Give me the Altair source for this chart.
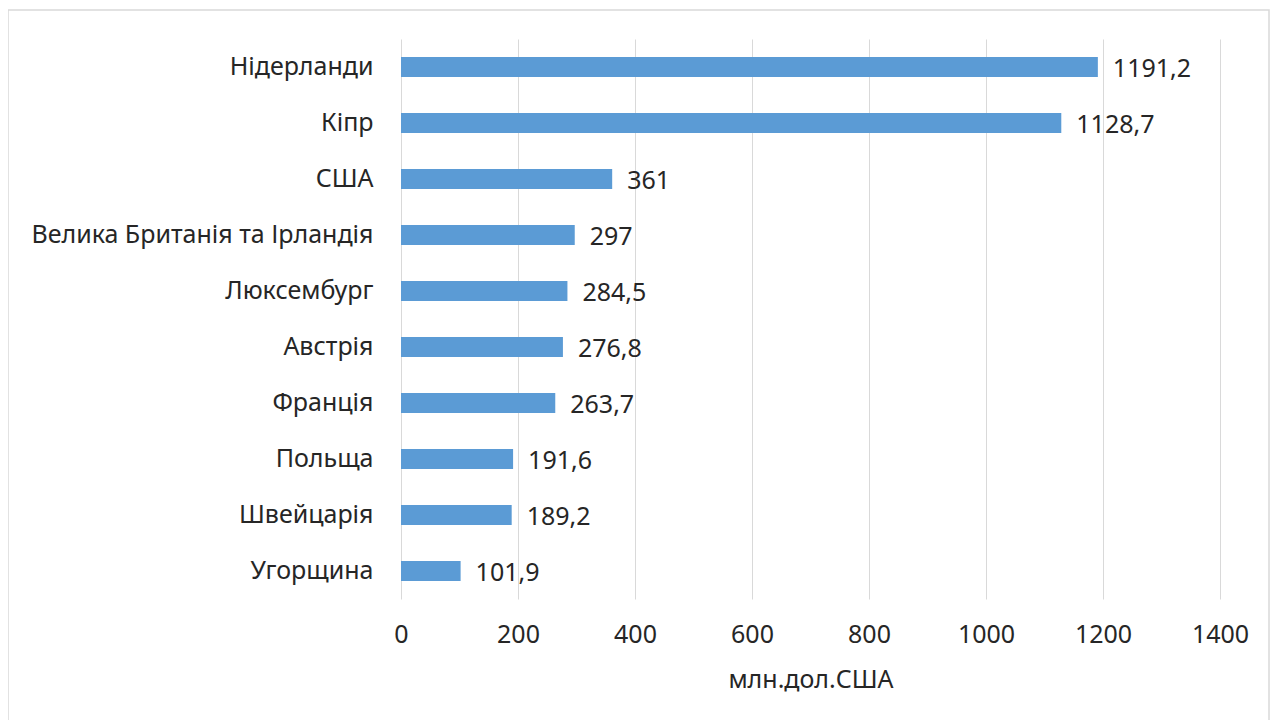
import altair as alt
import pandas as pd

countries = ["Нідерланди", "Кіпр", "США", "Велика Британія та Ірландія", "Люксембург",
             "Австрія", "Франція", "Польща", "Швейцарія", "Угорщина"]
values = [1191.2, 1128.7, 361, 297, 284.5, 276.8, 263.7, 191.6, 189.2, 101.9]
labels = ["1191,2", "1128,7", "361", "297", "284,5", "276,8", "263,7", "191,6", "189,2", "101,9"]
x_ticks = [0, 200, 400, 600, 800, 1000, 1200, 1400]
x_title = "млн.дол.США"

df = pd.DataFrame({"country": countries, "value": values, "label": labels})

FONT = "Noto Sans"
FS = 25
TXT = "#262626"

y_enc = alt.Y("country:N", sort=countries, title=None,
              scale=alt.Scale(paddingInner=0.64, paddingOuter=0.32),
              axis=alt.Axis(labelFont=FONT, labelFontSize=FS, labelColor=TXT,
                            labelPadding=28, ticks=False, domain=False, labelLimit=500))
x_enc = alt.X("value:Q", title=x_title,
              scale=alt.Scale(domain=[0, 1400], nice=False),
              axis=alt.Axis(values=x_ticks, format="d", labelFlush=False,
                            labelFont=FONT, labelFontSize=FS, labelColor=TXT,
                            labelPadding=23, ticks=False, domain=False, grid=True,
                            gridColor="#d9d9d9", gridWidth=1,
                            titleFont=FONT, titleFontSize=FS, titleColor=TXT,
                            titleFontWeight="normal", titlePadding=20))

bars = alt.Chart(df).mark_bar(color="#5b9bd5").encode(x=x_enc, y=y_enc)
text = alt.Chart(df).mark_text(align="left", baseline="middle", dx=15, dy=2,
                               font=FONT, fontSize=FS, color=TXT).encode(
    x="value:Q", y=alt.Y("country:N", sort=countries), text="label:N")

border = alt.Chart(alt.Data(values=[{"b": 1}])).mark_rect(
    fill=None, stroke="#d9d9d9", strokeWidth=1.5, clip=False).encode(
    x=alt.value(-393), x2=alt.value(868), y=alt.value(-29), y2=alt.value(720))

chart = alt.layer(border, bars, text).properties(
    width=819, height=560,
    autosize=alt.AutoSizeParams(type="none"),
    padding={"left": 393, "top": 31, "right": 50, "bottom": 121},
    background="white",
).configure_view(stroke=None)

chart.save("out.html", embed_options={"renderer": "svg", "actions": False})
